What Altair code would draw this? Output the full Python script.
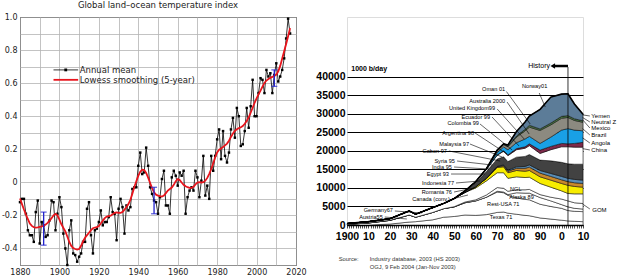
import altair as alt
import pandas as pd

# ---------------- Left panel: global land-ocean temperature index ----------------
temp_anom = [
    -0.12, -0.10, -0.10, -0.19, -0.29, -0.32, -0.32, -0.36, -0.18, -0.11,
    -0.37, -0.24, -0.26, -0.33, -0.32, -0.23, -0.11, -0.12, -0.29, -0.19,
    -0.09, -0.15, -0.31, -0.40, -0.50, -0.29, -0.23, -0.43, -0.44, -0.48,
    -0.45, -0.43, -0.36, -0.36, -0.16, -0.12, -0.32, -0.43, -0.29, -0.28,
    -0.24, -0.17, -0.26, -0.24, -0.24, -0.21, -0.09, -0.18, -0.19, -0.35,
    -0.16, -0.10, -0.15, -0.31, -0.14, -0.17, -0.15, -0.04, -0.03, -0.03,
    0.10, 0.18, 0.05, 0.06, 0.21, 0.10, -0.03, -0.07, -0.11, -0.12,
    -0.19, -0.09, 0.02, 0.07, -0.14, -0.14, -0.19, 0.03, 0.07, 0.04,
    -0.02, 0.06, 0.04, 0.07, -0.19, -0.09, -0.05, -0.03, -0.05, 0.07,
    0.03, -0.09, 0.01, 0.16, -0.08, -0.02, -0.10, 0.16, 0.07, 0.16,
    0.26, 0.32, 0.14, 0.31, 0.16, 0.12, 0.18, 0.32, 0.39, 0.27,
    0.45, 0.40, 0.22, 0.23, 0.31, 0.45, 0.33, 0.46, 0.62, 0.40,
    0.40, 0.54, 0.63, 0.62, 0.54, 0.68, 0.64, 0.66, 0.54, 0.65,
    0.72, 0.61, 0.64, 0.68, 0.75, 0.87, 0.99, 0.90,
]
temp_years = list(range(1880, 1880 + len(temp_anom)))

err_years = [1892, 1948, 2009]
err_lo = [-0.38, -0.19, 0.58]
err_hi = [-0.18, -0.03, 0.68]

leg_labels = ["Annual mean", "Lowess smoothing (5-year)"]
leg_y = [0.68, 0.62]

# ---------------- Right panel: non-OPEC oil production (1000 b/day) ----------------
oil_years = [1900, 1910, 1920, 1929, 1932, 1940, 1945, 1950, 1955, 1960, 1965, 1970,
             1973, 1975, 1979, 1983, 1985, 1990, 1995, 2000, 2003, 2006, 2010]
texas = [0, 0, 250, 800, 900, 1400, 2100, 2300, 2700, 2600, 2800, 3400,
         3500, 3200, 2900, 2600, 2500, 1900, 1600, 1300, 1100, 1000, 900]
rest_usa = [150, 550, 1000, 1900, 1200, 2000, 2300, 2600, 3300, 3900, 4700, 5500,
            5200, 4800, 4400, 4300, 4300, 3700, 3400, 3200, 2800, 2700, 2700]
alaska = [0, 0, 0, 0, 0, 0, 0, 0, 0, 0, 0, 200,
          200, 200, 1400, 1700, 1800, 1800, 1500, 1000, 1000, 800, 700]
gom = [0, 0, 0, 0, 0, 0, 0, 50, 200, 300, 600, 1000,
       1000, 900, 800, 900, 1000, 800, 1000, 1500, 1600, 1500, 1500]
other_old = [250, 350, 450, 1100, 800, 1300, 1400, 2200, 2600, 3200, 3800, 4000,
             4200, 3500, 3500, 3300, 3300, 3000, 2700, 2200, 2000, 2400, 2600]
yellow = [0, 0, 0, 0, 0, 0, 0, 0, 0, 300, 700, 1400,
          1600, 1500, 1700, 1700, 1800, 1800, 1900, 2000, 2200, 2000, 1800]
orange = [0, 0, 0, 0, 0, 0, 0, 0, 0, 0, 0, 200,
          300, 400, 600, 800, 900, 1000, 1000, 1000, 1000, 1000, 1000]
steel = [0, 0, 0, 0, 0, 0, 0, 0, 0, 0, 0, 100,
         200, 300, 400, 500, 600, 700, 800, 900, 900, 900, 900]
dark = [0, 0, 0, 0, 0, 0, 0, 0, 300, 1100, 1800, 2000,
        2200, 2300, 2600, 2700, 2800, 2800, 3400, 3800, 3900, 4100, 4300]
white_mid = [0, 0, 0, 0, 0, 0, 0, 0, 100, 300, 600, 1000,
             1500, 1600, 2000, 2200, 2400, 1800, 3000, 4200, 4600, 4600, 4600]
maroon = [0, 0, 0, 0, 0, 0, 0, 0, 0, 0, 0, 100,
          150, 200, 300, 400, 500, 900, 900, 900, 800, 1000, 1300]
blue = [0, 0, 0, 0, 0, 0, 0, 0, 0, 0, 200, 600,
        1000, 1400, 1600, 2100, 2000, 1800, 2500, 3600, 4100, 3600, 3100]
gray = [0, 0, 0, 0, 0, 0, 0, 0, 0, 0, 0, 500,
        600, 800, 1500, 2200, 2500, 3500, 3300, 3200, 3000, 2600, 2300]
green = [0, 0, 0, 0, 0, 0, 0, 0, 0, 0, 0, 200,
         200, 200, 300, 400, 500, 400, 500, 500, 500, 450, 400]
slate = [0, 0, 0, 0, 0, 0, 0, 0, 0, 0, 0, 0,
         50, 300, 1200, 2000, 2500, 5300, 7000, 6000, 5900, 4000, 1800]

layer_names = ["Texas", "Rest-USA", "Alaska", "GOM", "Canada etc.", "Indonesia", "Egypt",
               "India", "Syria etc.", "Malaysia etc.", "Colombia", "China", "Angola-Brazil",
               "Mexico", "North Sea"]
layer_values = [texas, rest_usa, alaska, gom, other_old, yellow, orange, steel, dark,
                white_mid, maroon, blue, gray, green, slate]
layer_colors = ["#ffffff", "#ffffff", "#ffffff", "#ffffff", "#ffffff", "#f7ec00", "#c8882c",
                "#5a8db5", "#424242", "#ffffff", "#7d2a4a", "#19a0e6", "#8c8a80",
                "#4e7a48", "#5c7c98"]

# labels with leader lines (year, kb/d)
lblR_text = ["Oman 01", "Australia 2000", "United Kingdom99", "Ecuador 99", "Colombia 99",
             "Argentina 98", "Malaysia 97", "Gabon 97", "Syria 95", "India 95", "Egypt 93",
             "Indonesia 77", "Romania 76", "Canada (conv.)", "Germany67", "Austria55"]
lblR_x = [1973.7, 1973.7, 1969.0, 1966.7, 1961.5, 1959.2, 1956.9, 1946.6, 1950.3, 1948.9,
          1947.5, 1949.9, 1948.9, 1948.0, 1921.4, 1916.7]
lblR_y = [36680, 33440, 31550, 29130, 27510, 24810, 21850, 19960, 17260, 15640, 13750,
          11330, 8900, 7010, 4050, 2160]
lead_x1 = [1974.3, 1974.6, 1970.0, 1967.6, 1962.0, 1959.7, 1957.3, 1947.5, 1951.3, 1949.9,
           1948.5, 1950.8, 1949.9, 1948.9, 1922.3, 1917.6,
           1989.6, 2009.8, 2009.8, 2009.8, 2009.8, 2009.8, 2009.8, 2009.8]
lead_y1 = [36000, 33170, 31290, 29130, 27240, 24810, 21850, 19960, 17260, 15640, 13750,
           11330, 8900, 7010, 3780, 2160,
           35600, 29700, 29000, 28400, 26000, 23500, 20600, 5660]
lead_x2 = [1985.4, 1984.9, 1982.6, 1980.2, 1977.0, 1974.6, 1972.3, 1971.4, 1967.6, 1966.2,
           1964.3, 1962.0, 1959.2, 1956.4, 1934.9, 1927.9,
           1992.4, 2013.2, 2013.2, 2013.2, 2013.2, 2013.2, 2013.2, 2013.2]
lead_y2 = [27240, 24540, 23190, 21310, 20230, 19150, 18340, 17260, 16180, 15100, 13750,
           11870, 9980, 8090, 3240, 1620,
           31820, 29400, 27780, 26160, 24270, 22120, 20230, 4320]

lblL_text = ["Norway01", "Rest-USA 71", "Alaska 89", "NGL"]
lblL_x = [1981.6, 1965.3, 1975.6, 1976.0]
lblL_y = [37490, 5660, 7550, 9710]

edge_text = ["Yemen", "Neutral Zone", "Mexico", "Brazil", "Angola", "China", "GOM"]
edge_x = [2013.9, 2013.9, 2013.9, 2013.9, 2013.9, 2013.9, 2014.3]
edge_y = [29400, 27780, 26160, 24270, 22120, 20230, 4050]

lblC_text = ["Texas 71"]
lblC_x = [1971.8]
lblC_y = [2160]

src_text = ["Source:", "Industry database, 2003 (HS 2003)", "OGJ, 9 Feb 2004 (Jan-Nov 2003)"]
src_x = [1896.1, 1910.6, 1910.6]
src_y = [-9170, -9170, -11410]

# ================= Left chart =================
DEJ = "DejaVu Sans"
tdf = pd.DataFrame({"year": temp_years, "anom": temp_anom})
edf = pd.DataFrame({"year": err_years, "lo": err_lo, "hi": err_hi})

yvals = [round(-0.5 + 0.1 * i, 1) for i in range(16)]
xl = alt.X("year:Q", title=None,
           scale=alt.Scale(domain=[1880, 2020], nice=False, zero=False),
           axis=alt.Axis(values=list(range(1880, 2021, 10)), tickCount=1000, format="d",
                         labelExpr="datum.value % 20 == 0 ? datum.label : ''",
                         grid=True, gridColor="#b4b4b4", gridWidth=0.8,
                         domain=False, ticks=False, labelFont=DEJ, labelFontSize=8,
                         labelColor="#222222", labelPadding=3, labelFlush=False,
                         labelOverlap=False))
yl = alt.Y("anom:Q", title=None,
           scale=alt.Scale(domain=[-0.5, 1.0], nice=False, zero=False),
           axis=alt.Axis(values=yvals, tickCount=1000,
                         labelExpr="abs(round(datum.value*10)) % 2 == 0 ? (datum.value == 0 ? '0' : replace(format(datum.value, '.1f'), '\u2212', '-')) : ''",
                         grid=True, gridColor="#b4b4b4", gridWidth=0.8,
                         domain=False, ticks=False, labelFont=DEJ, labelFontSize=8,
                         labelColor="#222222", labelPadding=3, labelOverlap=False))

base = alt.Chart(tdf)
annual_line = base.mark_line(color="black", strokeWidth=0.8).encode(x=xl, y=yl)
annual_pts = base.mark_square(color="black", size=6, opacity=1).encode(
    x=alt.X("year:Q", title=None), y=alt.Y("anom:Q", title=None))
smooth = base.transform_loess(on="year", loess="anom", bandwidth=0.09).mark_line(
    color="#e8141c", strokeWidth=1.8).encode(
    x=alt.X("year:Q", title=None), y=alt.Y("anom:Q", title=None))
err_rule = alt.Chart(edf).mark_rule(color="#2323cc", strokeWidth=1.3).encode(
    x=alt.X("year:Q", title=None), y=alt.Y("lo:Q", title=None), y2="hi:Q")
err_caps = alt.Chart(edf).transform_fold(["lo", "hi"], as_=["k", "v"]).mark_tick(
    color="#2323cc", orient="horizontal", size=6, thickness=1.3).encode(
    x=alt.X("year:Q", title=None), y=alt.Y("v:Q", title=None))

legdf = pd.DataFrame({"label": leg_labels, "ly": leg_y})
leg0 = alt.Chart(legdf.iloc[[0]]).mark_rule(color="black", strokeWidth=0.8).encode(
    x=alt.datum(1897.0), x2=alt.datum(1909.5), y=alt.Y("ly:Q", title=None))
leg0p = alt.Chart(legdf.iloc[[0]]).mark_square(color="black", size=8, opacity=1).encode(
    x=alt.datum(1903.2), y=alt.Y("ly:Q", title=None))
leg1 = alt.Chart(legdf.iloc[[1]]).mark_rule(color="#e8141c", strokeWidth=1.8).encode(
    x=alt.datum(1897.0), x2=alt.datum(1909.5), y=alt.Y("ly:Q", title=None))
legtxt = alt.Chart(legdf).mark_text(align="left", baseline="middle", font=DEJ,
                                    fontSize=8.5, color="#222222").encode(
    x=alt.datum(1910.3), y=alt.Y("ly:Q", title=None), text="label:N")

left = alt.layer(annual_line, annual_pts, smooth, err_rule, err_caps,
                 leg0, leg0p, leg1, legtxt).properties(
    width=276, height=248,
    title=alt.TitleParams("Global land\u2013ocean temperature index", font=DEJ,
                          fontSize=8.5, fontWeight="normal", color="#222222",
                          anchor="middle", offset=4),
    view=alt.ViewBackground(stroke="black", strokeWidth=1))

# ================= Right chart =================
rows = []
for i, (name, vals) in enumerate(zip(layer_names, layer_values)):
    for yr, v in zip(oil_years, vals):
        rows.append({"year": yr, "value": v, "layer": name, "idx": i})
odf = pd.DataFrame(rows)

ARIAL = "Liberation Sans"
NARROW = "Liberation Sans Narrow, Arial Narrow, Liberation Sans, sans-serif"
LFS = 5.6

xr = alt.X("year:Q", title=None,
           scale=alt.Scale(domain=[1900, 2010], nice=False, zero=False),
           axis=alt.Axis(values=list(range(1900, 2011)), tickCount=1000,
                         labelExpr="datum.value == 1900 ? '1900' : (datum.value % 10 == 0 ? '' + (datum.value % 100) : '')",
                         grid=False, domainColor="black", domainWidth=1.5,
                         tickColor="black", tickSize=3, tickWidth=0.7,
                         labelFont=ARIAL, labelFontWeight="bold", labelFontSize=10.5,
                         labelColor="black", labelPadding=3, labelFlush=False,
                         labelOverlap=False))
yr_ = alt.Y("value:Q", title=None, stack="zero",
            scale=alt.Scale(domain=[0, 56100], nice=False),
            axis=alt.Axis(values=list(range(0, 40001, 5000)), tickCount=1000, format="d",
                          grid=True, gridColor="black", gridWidth=1.2,
                          domain=False, ticks=False, labelFont=ARIAL,
                          labelFontWeight="bold", labelFontSize=10.5,
                          labelColor="black", labelPadding=2, labelOverlap=False))

areas = alt.Chart(odf).mark_area(stroke="black", strokeWidth=0.5, interpolate="linear").encode(
    x=xr, y=yr_,
    color=alt.Color("layer:N", scale=alt.Scale(domain=layer_names, range=layer_colors), legend=None),
    order=alt.Order("idx:Q"))
total = alt.Chart(odf).transform_aggregate(total="sum(value)", groupby=["year"]).mark_line(
    color="black", strokeWidth=1.6).encode(
    x=alt.X("year:Q", title=None), y=alt.Y("total:Q", title=None))

leaddf = pd.DataFrame({"x1": lead_x1, "y1": lead_y1, "x2": lead_x2, "y2": lead_y2})
leaders = alt.Chart(leaddf).mark_rule(color="black", strokeWidth=0.6).encode(
    x=alt.X("x1:Q", title=None), y=alt.Y("y1:Q", title=None), x2="x2:Q", y2="y2:Q")

rdf = pd.DataFrame({"t": lblR_text, "x": lblR_x, "y": lblR_y})
ldf = pd.DataFrame({"t": lblL_text, "x": lblL_x, "y": lblL_y})
edgedf = pd.DataFrame({"t": edge_text, "x": edge_x, "y": edge_y})
cdf = pd.DataFrame({"t": lblC_text, "x": lblC_x, "y": lblC_y})
txtR = alt.Chart(rdf).mark_text(align="right", baseline="middle", font=NARROW, fontSize=LFS,
                                color="black").encode(
    x=alt.X("x:Q", title=None), y=alt.Y("y:Q", title=None), text="t:N")
txtL = alt.Chart(ldf).mark_text(align="left", baseline="middle", font=NARROW, fontSize=LFS,
                                color="black").encode(
    x=alt.X("x:Q", title=None), y=alt.Y("y:Q", title=None), text="t:N")
txtE = alt.Chart(edgedf).mark_text(align="left", baseline="middle", font=NARROW, fontSize=6,
                                   color="black", limit=28, ellipsis="\u200b").encode(
    x=alt.X("x:Q", title=None), y=alt.Y("y:Q", title=None), text="t:N")
txtC = alt.Chart(cdf).mark_text(align="center", baseline="middle", font=NARROW, fontSize=LFS,
                                color="black").encode(
    x=alt.X("x:Q", title=None), y=alt.Y("y:Q", title=None), text="t:N")

hist_line = alt.Chart(pd.DataFrame({"x": [2003], "y0": [0], "y1": [42600]})).mark_rule(
    color="black", strokeWidth=0.8).encode(
    x=alt.X("x:Q", title=None), y=alt.Y("y0:Q", title=None), y2="y1:Q")
hist_arrow = alt.Chart(pd.DataFrame({"x0": [1996.5], "x1": [2003], "y": [42880]})).mark_rule(
    color="black", strokeWidth=2.5).encode(
    x=alt.X("x0:Q", title=None), x2="x1:Q", y=alt.Y("y:Q", title=None))
hist_head = alt.Chart(pd.DataFrame({"x": [1995.9], "y": [42880]})).mark_point(
    shape="triangle-left", size=28, filled=True, color="black", opacity=1).encode(
    x=alt.X("x:Q", title=None), y=alt.Y("y:Q", title=None))
hist_txt = alt.Chart(pd.DataFrame({"x": [1994.6], "y": [42880], "t": ["History"]})).mark_text(
    align="right", baseline="middle", font=NARROW, fontSize=7, color="black").encode(
    x=alt.X("x:Q", title=None), y=alt.Y("y:Q", title=None), text="t:N")
unit_txt = alt.Chart(pd.DataFrame({"x": [1902.0], "y": [42070], "t": ["1000 b/day"]})).mark_text(
    align="left", baseline="middle", font=NARROW, fontSize=7, fontWeight="bold",
    color="black").encode(
    x=alt.X("x:Q", title=None), y=alt.Y("y:Q", title=None), text="t:N")
src = alt.Chart(pd.DataFrame({"x": src_x, "y": src_y, "t": src_text})).mark_text(
    align="left", baseline="middle", font=NARROW, fontSize=5.8, color="#333333").encode(
    x=alt.X("x:Q", title=None), y=alt.Y("y:Q", title=None), text="t:N")

right = alt.layer(areas, total, leaders, txtR, txtL, txtE, txtC, hist_line, hist_arrow,
                  hist_head, hist_txt, unit_txt, src).properties(width=236, height=208)

chart = alt.hconcat(left, right, spacing=8).properties(padding=0).configure_view(
    strokeWidth=0).configure(background="white")

chart.save("out.html", embed_options={"renderer": "svg", "actions": False})
